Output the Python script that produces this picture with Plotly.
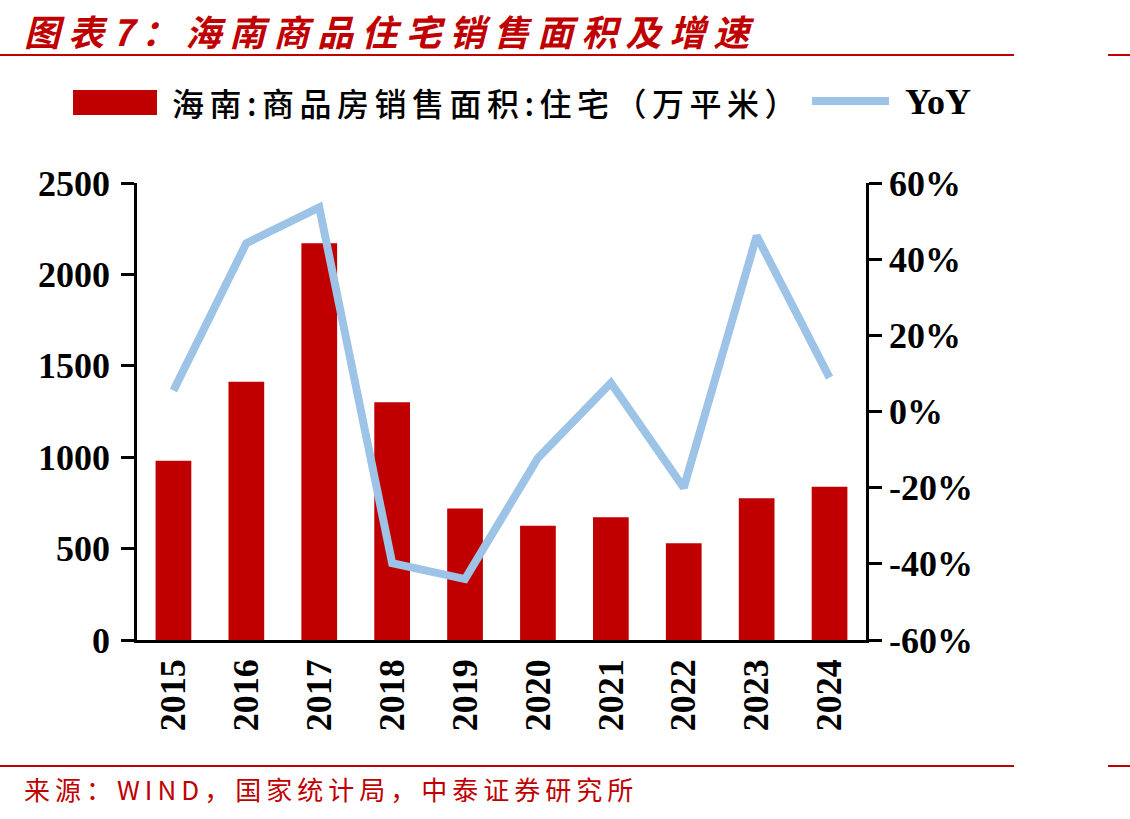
import plotly.graph_objects as go

# ---- data ----
years = ["2015", "2016", "2017", "2018", "2019", "2020", "2021", "2022", "2023", "2024"]
area = [981, 1413, 2170, 1300, 720, 625, 671, 529, 775, 839]          # 万平米
yoy = [5.5, 44.2, 53.6, -39.8, -44.0, -12.2, 7.5, -20.0, 46.1, 8.9]    # %
left_ticks = [0, 500, 1000, 1500, 2000, 2500]
right_ticks = [-60, -40, -20, 0, 20, 40, 60]
right_tick_labels = [f"{v}%" for v in right_ticks]
series_names = ["海南:商品房销售面积:住宅（万平米）", "YoY"]
title_text = "图表7：海南商品住宅销售面积及增速"
source_text = "来源：WIND，国家统计局，中泰证券研究所"

# ---- layout geometry ----
W, H = 1130, 819
ML, MR, MT, MB = 137, 264, 183, 179
PW, PH = W - ML - MR, H - MT - MB
RED = "#C00000"
BLUE = "#9DC3E6"
SERIF = "Liberation Serif, Times New Roman, serif"
CJK = "Noto Sans CJK SC, sans-serif"


def px(x):
    return (x - ML) / PW


def py(y):
    return (H - MB - y) / PH


fig = go.Figure()
fig.add_trace(go.Bar(
    x=years, y=area, name=series_names[0], marker_color=RED,
    marker_line_width=0, width=0.49, showlegend=False, yaxis="y"))
fig.add_trace(go.Scatter(
    x=years, y=yoy, name=series_names[1], mode="lines",
    line=dict(color=BLUE, width=8), showlegend=False, yaxis="y2"))

axis_font = dict(family=SERIF, size=36, color="black", weight="bold")

fig.update_layout(
    width=W, height=H,
    margin=dict(l=ML, r=MR, t=MT, b=MB, pad=0),
    paper_bgcolor="white", plot_bgcolor="white",
    bargap=0.51,
    xaxis=dict(
        type="category", showline=True, linecolor="black", linewidth=2.5,
        ticks="", tickangle=-90, tickfont=axis_font, ticklabelstandoff=2,
        showgrid=False, zeroline=False, range=[-0.5, len(years) - 0.5]),
    yaxis=dict(
        range=[0, 2500], tickvals=left_ticks, showline=True, linecolor="black",
        linewidth=2.5, ticks="outside", ticklen=13, tickwidth=2.5,
        tickcolor="black", tickfont=axis_font, showgrid=False, zeroline=False,
        ticklabelstandoff=4),
    yaxis2=dict(
        range=[-60, 60], tickvals=right_ticks, ticktext=right_tick_labels,
        overlaying="y", side="right", showline=True, linecolor="black",
        linewidth=2.5, ticks="outside", ticklen=13, tickwidth=2.5,
        tickcolor="black", tickfont=axis_font, showgrid=False, zeroline=False,
        ticklabelstandoff=0),
    showlegend=False,
)

shapes = []
# header / footer rules
for yline in (55, 766):
    shapes.append(dict(type="line", xref="paper", yref="paper",
                       x0=px(0), x1=px(1014), y0=py(yline), y1=py(yline),
                       line=dict(color=RED, width=2)))
    shapes.append(dict(type="line", xref="paper", yref="paper",
                       x0=px(1108), x1=px(1130), y0=py(yline), y1=py(yline),
                       line=dict(color=RED, width=2)))
# legend symbols
shapes.append(dict(type="rect", xref="paper", yref="paper",
                   x0=px(73), x1=px(157), y0=py(115), y1=py(90),
                   fillcolor=RED, line=dict(width=0)))
shapes.append(dict(type="line", xref="paper", yref="paper",
                   x0=px(812), x1=px(889), y0=py(101), y1=py(101),
                   line=dict(color=BLUE, width=8)))

annotations = [
    dict(text='<span style="letter-spacing:8px">' + title_text + '</span>',
         xref="paper", yref="paper", x=px(22), y=py(30), xanchor="left",
         yanchor="middle", showarrow=False,
         font=dict(family=CJK, size=36, color=RED, weight="bold", style="italic")),
    dict(text='<span style="letter-spacing:5.5px">' + series_names[0] + '</span>',
         xref="paper", yref="paper", x=px(170), y=py(102), xanchor="left",
         yanchor="middle", showarrow=False,
         font=dict(family=CJK, size=32, color="black", weight=500)),
    dict(text=series_names[1],
         xref="paper", yref="paper", x=px(903), y=py(102), xanchor="left",
         yanchor="middle", showarrow=False,
         font=dict(family=SERIF, size=36, color="black", weight="bold")),
    dict(text='<span style="letter-spacing:5px">' + source_text + '</span>',
         xref="paper", yref="paper", x=px(22), y=py(788), xanchor="left",
         yanchor="middle", showarrow=False,
         font=dict(family=CJK, size=26, color=RED)),
]

fig.update_layout(shapes=shapes, annotations=annotations)
fig.write_html("out.html")
